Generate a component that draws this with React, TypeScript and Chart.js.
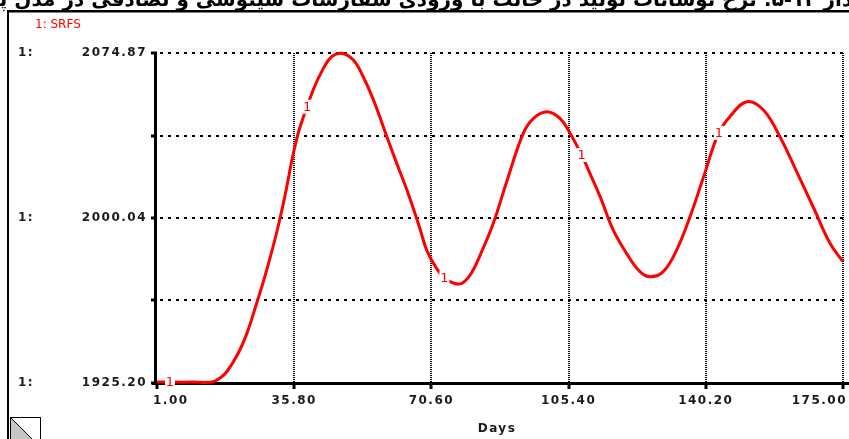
import React, { useEffect, useRef } from 'react';
import { Chart, registerables } from 'chart.js';

Chart.register(...registerables);

// ---- data ----
const days = [
  1, 5, 10, 15, 17, 18.7, 21.6, 23.8, 26.3, 28.6, 31.4, 33.5, 35.6, 37.3, 40.6, 43.2, 45.3, 47.8,
  50.8, 53.3, 55.9, 59.3, 61.8, 64.7, 67.7, 69.4, 71.9, 74.0, 76.5, 78.5, 80.8, 83.4, 86.3, 89.7,
  93.9, 96.5, 99.9, 103.2, 105.8, 108.7, 110.8, 113.4, 116.7, 120.1, 123.5, 126.1, 129.4, 132.8,
  136.2, 139.6, 143.4, 146.3, 150.6, 154.8, 159.0, 163.3, 167.5, 171.7, 175.0,
];
const srfs = [
  1925.6, 1925.6, 1925.6, 1925.7, 1927.5, 1930.3, 1938.7, 1947.7, 1961.5, 1975.0, 1993.8, 2010.5,
  2029.5, 2041.4, 2058.1, 2067.9, 2073.2, 2074.8, 2071.7, 2064.1, 2053.6, 2036.9, 2024.8, 2011.2,
  1995.2, 1985.5, 1977.2, 1972.8, 1970.3, 1970.6, 1975.2, 1985.0, 1997.6, 2016.5, 2038.4, 2045.2,
  2048.2, 2045.2, 2038.4, 2028.6, 2020.3, 2009.7, 1994.6, 1984.0, 1975.7, 1973.4, 1975.7, 1985.5,
  2000.6, 2018.5, 2038.4, 2046.0, 2052.8, 2049.0, 2036.9, 2020.8, 2004.8, 1988.6, 1980.2,
];
const xTicks = [1, 35.8, 70.6, 105.4, 140.2, 175];
const xTickLabels = ['1.00', '35.80', '70.60', '105.40', '140.20', '175.00'];
const yTicks = [1925.2, 1962.62, 2000.04, 2037.45, 2074.87];
const yTickLabels = ['1925.20', '', '2000.04', '', '2074.87'];
const markerDays = [4.3, 39.1, 73.9, 108.7, 143.5];
const seriesName = 'SRFS';
const seriesNo = '1';
const xTitle = 'Days';
const titleText =
  'نمودار ۱۲-۵: نرخ نوسانات تولید در حالت با ورودی سفارشات سینوسی و تصادفی در مدل پایه(';

const W = 849;
const H = 439;
const RED = '#ff0000';
const AXIS_FONT = 'bold 12px "DejaVu Sans"';

function valueAt(d: number): number {
  for (let i = 0; i < days.length - 1; i++) {
    if (d >= days[i] && d <= days[i + 1]) {
      const t = (d - days[i]) / (days[i + 1] - days[i]);
      return srfs[i] + t * (srfs[i + 1] - srfs[i]);
    }
  }
  return srfs[srfs.length - 1];
}

const stellaPlugin = {
  id: 'stella',
  beforeDraw(chart: any) {
    const ctx: CanvasRenderingContext2D = chart.ctx;
    ctx.save();
    ctx.fillStyle = '#fff';
    ctx.fillRect(0, 0, W, H);
    // title (cut off at the top)
    ctx.fillStyle = '#000';
    ctx.font = 'bold 20px "DejaVu Sans"';
    (ctx as any).direction = 'rtl';
    ctx.textAlign = 'center';
    ctx.textBaseline = 'alphabetic';
    ctx.fillText(titleText, W / 2, 6);
    (ctx as any).direction = 'ltr';
    // frame
    ctx.fillRect(7, 10, W - 7, 2.5);
    ctx.fillRect(7, 10, 2, H - 10);
    // corner icon
    ctx.fillStyle = '#c6c6c6';
    ctx.beginPath();
    ctx.moveTo(10.5, 417.5);
    ctx.lineTo(10.5, 447.5);
    ctx.lineTo(40.5, 447.5);
    ctx.closePath();
    ctx.fill();
    ctx.strokeStyle = '#000';
    ctx.lineWidth = 1;
    ctx.strokeRect(10.5, 417.5, 30, 30);
    ctx.beginPath();
    ctx.moveTo(10.5, 417.5);
    ctx.lineTo(40.5, 447.5);
    ctx.stroke();
    ctx.restore();
  },
  beforeDatasetsDraw(chart: any) {
    const ctx: CanvasRenderingContext2D = chart.ctx;
    const xs = chart.scales.x;
    const ys = chart.scales.y;
    const { left, right, top, bottom } = chart.chartArea;
    ctx.save();
    // horizontal dotted grid
    ctx.strokeStyle = '#000';
    ctx.lineWidth = 2;
    ctx.setLineDash([3, 5]);
    yTicks.forEach((v, i) => {
      if (i === 0) return;
      const y = Math.round(ys.getPixelForValue(v));
      ctx.beginPath();
      ctx.moveTo(left + 3, y);
      ctx.lineTo(right + 1, y);
      ctx.stroke();
    });
    // vertical fine dotted grid
    ctx.lineWidth = 2;
    ctx.setLineDash([1, 1]);
    xTicks.forEach((v, i) => {
      if (i === 0) return;
      const x = Math.round(xs.getPixelForValue(v));
      ctx.beginPath();
      ctx.moveTo(x, top);
      ctx.lineTo(x, bottom);
      ctx.stroke();
    });
    ctx.setLineDash([]);
    // axes
    ctx.fillStyle = '#000';
    ctx.fillRect(left - 3, top, 3, bottom - top + 2);
    ctx.fillRect(left - 5, bottom - 1, W - left + 5, 3);
    yTicks.forEach((v) => {
      const y = Math.round(ys.getPixelForValue(v));
      ctx.fillRect(left - 6, y - 1.5, 6, 3);
    });
    xTicks.forEach((v) => {
      const x = Math.round(xs.getPixelForValue(v));
      ctx.fillRect(x - 1.5, bottom, 3, 6);
    });
    // labels
    (ctx as any).letterSpacing = '1.5px';
    ctx.font = AXIS_FONT;
    ctx.fillStyle = '#1a1a1a';
    ctx.textBaseline = 'middle';
    yTicks.forEach((v, i) => {
      if (!yTickLabels[i]) return;
      const y = ys.getPixelForValue(v);
      ctx.textAlign = 'left';
      ctx.fillText(seriesNo + ':', 18, y);
      ctx.textAlign = 'right';
      ctx.fillText(yTickLabels[i], 147, y);
    });
    xTicks.forEach((v, i) => {
      const x = xs.getPixelForValue(v);
      if (i === 0) {
        ctx.textAlign = 'left';
        ctx.fillText(xTickLabels[i], x - 4, 401);
      } else if (i === xTicks.length - 1) {
        ctx.textAlign = 'right';
        ctx.fillText(xTickLabels[i], x + 4, 401);
      } else {
        ctx.textAlign = 'center';
        ctx.fillText(xTickLabels[i], x, 401);
      }
    });
    ctx.textAlign = 'center';
    ctx.fillText(xTitle, (left + right) / 2 - 3, 428.5);
    // legend
    (ctx as any).letterSpacing = '0px';
    ctx.fillStyle = RED;
    ctx.font = '12px "DejaVu Sans"';
    ctx.textAlign = 'left';
    ctx.fillText(seriesNo + ': ' + seriesName, 35, 24.5);
    ctx.restore();
  },
  afterDatasetsDraw(chart: any) {
    const ctx: CanvasRenderingContext2D = chart.ctx;
    const xs = chart.scales.x;
    const ys = chart.scales.y;
    ctx.save();
    (ctx as any).letterSpacing = '0px';
    ctx.font = '13px "DejaVu Sans"';
    ctx.textAlign = 'center';
    ctx.textBaseline = 'middle';
    markerDays.forEach((d) => {
      const x = xs.getPixelForValue(d);
      const y = ys.getPixelForValue(valueAt(d));
      ctx.fillStyle = '#fff';
      ctx.fillRect(x - 5, y - 7, 10, 14);
      ctx.fillStyle = RED;
      ctx.fillText(seriesNo, x, y + 1);
    });
    ctx.restore();
  },
};

export default function App() {
  const ref = useRef<HTMLCanvasElement | null>(null);
  useEffect(() => {
    if (!ref.current) return;
    const chart = new Chart(ref.current, {
      type: 'line',
      data: {
        datasets: [
          {
            label: seriesName,
            data: days.map((d, i) => ({ x: d, y: srfs[i] })),
            borderColor: RED,
            borderWidth: 3,
            pointRadius: 0,
            tension: 0.4,
            fill: false,
            clip: false as any,
          },
        ],
      },
      options: {
        animation: false,
        responsive: false,
        devicePixelRatio: 1,
        events: [],
        layout: { padding: { left: 157, right: 6, top: 53, bottom: 56 } },
        scales: {
          x: { type: 'linear', min: 1, max: 175, display: false },
          y: { type: 'linear', min: 1925.2, max: 2074.87, display: false },
        },
        plugins: { legend: { display: false }, tooltip: { enabled: false } },
      },
      plugins: [stellaPlugin],
    });
    return () => chart.destroy();
  }, []);
  return (
    <div style={{ position: 'fixed', left: 0, top: 0, width: W, height: H, background: '#fff' }}>
      <canvas ref={ref} width={W} height={H} style={{ display: 'block' }} />
    </div>
  );
}
